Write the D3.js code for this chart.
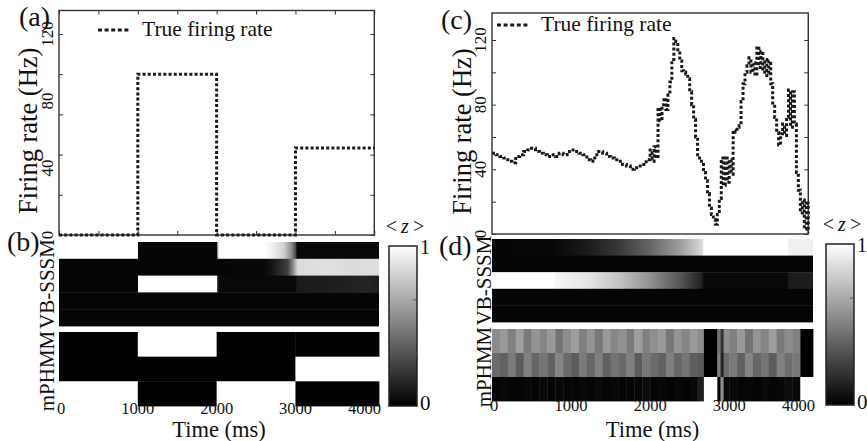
<!DOCTYPE html>
<meta charset="utf-8">
<script src="https://d3js.org/d3.v7.min.js"></script>
<body style="margin:0;background:#fff">
<script>

// ---- data ----
var timeTicks = [0, 1000, 2000, 3000, 4000];
var minorTimeTicks = [0, 500, 1000, 1500, 2000, 2500, 3000, 3500, 4000];

// (a) step firing rate
var stepTimes = [0, 1000, 2000, 3000, 4000];
var stepRates = [0, 96, 0, 52, 52];
var rateTicksA = [0, 24, 48, 72, 96, 120];
var rateLabels = [0, 40, 80, 120];

// (c) smooth firing rate
var rateTicksC = [0, 20, 40, 60, 80, 100, 120];
var rateTimes = [0, 50, 100, 150, 200, 250, 300, 350, 400, 450, 500, 550, 600, 650, 700, 750, 800, 850, 900, 950,
  1000, 1050, 1100, 1150, 1200, 1250, 1300, 1350, 1400, 1450, 1500, 1550, 1600, 1650, 1700, 1750, 1800, 1850, 1900, 1950,
  2000, 2025, 2050, 2075, 2100, 2125, 2150, 2175, 2200, 2225, 2250, 2275, 2300, 2325, 2350, 2375, 2400, 2425, 2450, 2475,
  2500, 2525, 2550, 2575, 2600, 2625, 2650, 2675, 2700, 2725, 2750, 2775, 2800, 2825, 2850, 2875, 2900, 2925, 2950, 2975,
  3000, 3025, 3050, 3075, 3100, 3125, 3150, 3175, 3200, 3225, 3250, 3275, 3300, 3325, 3350, 3375, 3400, 3425, 3450, 3475,
  3500, 3525, 3550, 3575, 3600, 3625, 3650, 3675, 3700, 3725, 3750, 3775, 3800, 3825, 3850, 3875, 3900, 3925, 3950, 3975, 4000];
var rateValues = [50, 49, 48, 47, 45, 44, 48, 49, 51, 52, 53, 51, 50, 49, 48, 49, 48, 50, 49, 51,
  52, 51, 50, 49, 46, 45, 49, 51, 50, 48, 47, 46, 45, 43, 42, 40, 41, 42, 43, 46,
  52, 45, 54, 47, 78, 70, 80, 84, 77, 86, 94, 108, 121, 119, 114, 107, 101, 100, 99, 96,
  88, 80, 71, 60, 49, 47, 44, 38, 33, 25, 16, 12, 9, 6, 12, 22, 47, 30, 48, 32,
  46, 37, 64, 63, 66, 67, 82, 93, 100, 104, 109, 100, 106, 98, 116, 103, 113, 100, 108, 98,
  107, 93, 80, 72, 63, 55, 62, 68, 61, 72, 89, 66, 88, 68, 38, 27, 13, 21, 3, 19, 1];

// (b) VB-SSSM <z>, gradient stops [time, value] per state
var vbStopsB = [
  [[0, 1], [1000, 1], [1000, 0.02], [2000, 0.02], [2000, 0.35], [2030, 1], [2600, 1], [2700, 0.95], [2850, 0.82], [2950, 0.55], [3000, 0.3], [3020, 0.03], [4060, 0.03]],
  [[0, 0.02], [2000, 0.02], [2600, 0.03], [2700, 0.08], [2900, 0.25], [2960, 0.5], [3030, 0.86], [3400, 0.88], [3700, 0.86], [4060, 0.87]],
  [[0, 0.02], [1000, 0.02], [1000, 1], [2000, 1], [2000, 0.4], [2030, 0.03], [3000, 0.03], [3020, 0.1], [3600, 0.12], [3900, 0.14], [4060, 0.12]],
  [[0, 0.02], [4060, 0.02]],
  [[0, 0.02], [4060, 0.02]]
];
// (b) mPHMM <z>, cells
var mpEdgesB = [0, 1000, 2000, 3000, 4060];
var mpValuesB = [
  [0, 1, 0, 0],
  [0, 0, 0, 1],
  [1, 0, 1, 0]
];

// (d) VB-SSSM <z>
var vbStopsD = [
  [[0, 0.02], [800, 0.03], [1200, 0.1], [1600, 0.22], [2000, 0.4], [2400, 0.63], [2660, 0.85], [2680, 1], [3750, 1], [3750, 0.94], [4060, 0.94]],
  [[0, 0.02], [4060, 0.02]],
  [[0, 1], [800, 1], [800, 0.96], [1200, 0.9], [1600, 0.77], [2000, 0.57], [2400, 0.32], [2660, 0.12], [2680, 0.03], [3750, 0.03], [3750, 0.1], [4060, 0.12]],
  [[0, 0.02], [4060, 0.02]],
  [[0, 0.02], [4060, 0.02]]
];
// (d) mPHMM <z>, cells
var mpEdgesD = [0, 100, 200, 300, 400, 500, 600, 700, 800, 900, 1000, 1100, 1200, 1300, 1400, 1500, 1600, 1700, 1800, 1900,
  2000, 2100, 2200, 2300, 2400, 2500, 2600, 2680, 2850, 2890, 2930, 3000, 3100, 3200, 3300, 3400, 3500, 3600, 3700, 3800, 3900, 4060];
var mpValuesD = [
  [0.55, 0.6, 0.5, 0.62, 0.48, 0.58, 0.52, 0.6, 0.45, 0.55, 0.62, 0.5, 0.58, 0.47, 0.6, 0.53, 0.57, 0.48, 0.62, 0.5, 0.56, 0.6, 0.47, 0.58, 0.52, 0.6,
   0.55, 0, 0.45, 0.2, 0.55, 0.5, 0.6, 0.45, 0.58, 0.52, 0.62, 0.48, 0.55, 0.5, 0],
  [0.42, 0.38, 0.48, 0.36, 0.5, 0.4, 0.46, 0.38, 0.52, 0.42, 0.36, 0.48, 0.4, 0.5, 0.38, 0.45, 0.41, 0.5, 0.36, 0.47, 0.42, 0.38, 0.5, 0.4, 0.46, 0.37,
   0.35, 0, 0.5, 0.15, 0.42, 0.48, 0.38, 0.52, 0.4, 0.46, 0.36, 0.5, 0.43, 0.47, 0],
  [0.02, 0.03, 0.02, 0.02, 0.03, 0.02, 0.04, 0.02, 0.03, 0.02, 0.02, 0.03, 0.02, 0.04, 0.02, 0.03, 0.02, 0.02, 0.03, 0.05, 0.02, 0.03, 0.02, 0.03, 0.02, 0.03,
   0.12, 1, 0.02, 0.55, 0.03, 0.03, 0.02, 0.03, 0.02, 0.04, 0.02, 0.03, 0.05, 0.04, 1]
];
var cbTicks = [0, 1 / 3, 2 / 3, 1];

// ---- drawing ----
var font = "'Liberation Serif','Times New Roman',serif";
var gray = d3.scaleLinear().domain([0, 1]).range(["#000", "#fff"]);

var svg = d3.select("body").append("svg")
  .attr("width", 867).attr("height", 441)
  .style("display", "block")
  .style("font-family", font);
svg.append("rect").attr("width", 867).attr("height", 441).attr("fill", "#fff");
var defs = svg.append("defs");

function txt(g, x, y, s, size, anchor, rot) {
  var t = g.append("text")
    .attr("transform", "translate(" + x + "," + y + ")" + (rot ? " rotate(-90)" : ""))
    .attr("text-anchor", anchor || "start")
    .attr("font-size", size)
    .attr("fill", "#111")
    .text(s);
  return t;
}

function ratePanel(p) {
  var g = svg.append("g");
  var x = p.x, y = p.y;
  var xa = x(0), xb = x(4000), yb = y.range()[0], yt = y.range()[1];

  // inner tick marks
  g.append("g").attr("transform", "translate(" + xa + ",0)")
    .call(d3.axisLeft(y).tickValues(p.yTicks).tickSize(-4).tickFormat(""));
  g.append("g").attr("transform", "translate(" + xb + ",0)")
    .call(d3.axisRight(y).tickValues(p.yTicks).tickSize(-4).tickFormat(""));
  if (p.xTicks) {
    g.append("g").attr("transform", "translate(0," + yt + ")")
      .call(d3.axisTop(x).tickValues(p.xTicks).tickSize(-4).tickFormat(""));
    g.append("g").attr("transform", "translate(0," + yb + ")")
      .call(d3.axisBottom(x).tickValues(p.xTicks).tickSize(-4).tickFormat(""));
  }
  g.selectAll(".domain").remove();
  g.selectAll(".tick line").attr("stroke", "#333").attr("stroke-width", 1);

  g.append("rect").attr("x", xa).attr("y", yt).attr("width", xb - xa).attr("height", yb - yt)
    .attr("fill", "none").attr("stroke", "#333").attr("stroke-width", 1.4);

  var pts = p.times.map(function(t, i) { return [t, p.rates[i]]; });
  var line = d3.line().x(function(d) { return x(d[0]); }).y(function(d) { return y(d[1]); })
    .curve(d3.curveStepAfter);
  g.append("path").datum(pts).attr("d", line)
    .attr("fill", "none").attr("stroke", "#1a1a1a").attr("stroke-width", 3)
    .attr("stroke-dasharray", "3,2.2");

  // y tick labels (rotated)
  rateLabels.forEach(function(v) {
    txt(g, xa - 6, y(v), v, 17, "middle", true);
  });
  txt(g, p.ylabX, (yt + yb) / 2 + 8, "Firing rate (Hz)", 26.5, "middle", true);

  // legend
  g.append("line").attr("x1", p.legX).attr("x2", p.legX + 33).attr("y1", p.legY).attr("y2", p.legY)
    .attr("stroke", "#1a1a1a").attr("stroke-width", 3).attr("stroke-dasharray", "4,2.6");
  txt(g, p.legX + 44, p.legY + 6, "True firing rate", 21.5, "start");
  txt(g, p.tagX, p.tagY, p.tag, 28, "start");
}

function gradRows(g, x, top, bottom, rows, id) {
  var band = d3.scaleBand().domain(d3.range(rows.length)).range([top, bottom]);
  var xa = x(0), xb = x(4060);
  rows.forEach(function(stops, i) {
    var lg = defs.append("linearGradient").attr("id", id + i)
      .attr("gradientUnits", "userSpaceOnUse")
      .attr("x1", xa).attr("x2", xb).attr("y1", 0).attr("y2", 0);
    stops.forEach(function(s) {
      lg.append("stop").attr("offset", (x(s[0]) - xa) / (xb - xa)).attr("stop-color", gray(s[1]));
    });
    g.append("rect").attr("x", xa).attr("y", band(i)).attr("width", xb - xa)
      .attr("height", band.bandwidth() + 0.4).attr("fill", "url(#" + id + i + ")");
  });
}

function cellRows(g, x, top, bottom, edges, rows) {
  var band = d3.scaleBand().domain(d3.range(rows.length)).range([top, bottom]);
  rows.forEach(function(vals, i) {
    g.selectAll(null).data(vals).enter().append("rect")
      .attr("x", function(d, j) { return x(edges[j]); })
      .attr("width", function(d, j) { return x(edges[j + 1]) - x(edges[j]) + 0.4; })
      .attr("y", band(i)).attr("height", band.bandwidth() + 0.4)
      .attr("fill", function(d) { return gray(d); });
  });
}

function colorbar(g, x0, y0, w, h, id) {
  var cy = d3.scaleLinear().domain([0, 1]).range([y0 + h, y0]);
  var lg = defs.append("linearGradient").attr("id", id)
    .attr("gradientUnits", "userSpaceOnUse")
    .attr("x1", 0).attr("x2", 0).attr("y1", cy(0)).attr("y2", cy(1));
  lg.append("stop").attr("offset", 0).attr("stop-color", gray(0));
  lg.append("stop").attr("offset", 1).attr("stop-color", gray(1));
  g.append("rect").attr("x", x0).attr("y", y0).attr("width", w).attr("height", h)
    .attr("fill", "url(#" + id + ")").attr("stroke", "#222").attr("stroke-width", 1.5);
  var ax = g.append("g").attr("transform", "translate(" + (x0 + w) + ",0)")
    .call(d3.axisRight(cy).tickValues(cbTicks).tickSize(-4).tickFormat(""));
  ax.select(".domain").remove();
  ax.selectAll(".tick line").attr("stroke", "#555");
  txt(g, x0 + w + 3, cy(1) + 8, "1", 20, "start");
  txt(g, x0 + w + 3, cy(0) + 4, "0", 21, "start");
  var z = txt(g, x0 + w / 2 + 2, y0 - 13, "", 20, "middle");
  z.append("tspan").text("<\u2009");
  z.append("tspan").attr("font-style", "italic").text("z");
  z.append("tspan").text("\u2009>");
}

function zPanel(p) {
  var g = svg.append("g");
  var x = p.x;
  gradRows(g, x, p.vbTop, p.vbBottom, p.vbStops, p.id);
  cellRows(g, x, p.mpTop, p.mpBottom, p.mpEdges, p.mpValues);
  txt(g, p.labX, (p.vbTop + p.vbBottom) / 2, "VB-SSSM", 21, "middle", true);
  txt(g, p.labX, (p.mpTop + p.mpBottom) / 2 + 2, "mPHMM", 21, "middle", true);
  timeTicks.forEach(function(t, i) {
    var anchor = "middle", px = x(t);
    if (i === 0) { anchor = "start"; px = x(0) - 2; }
    if (i === timeTicks.length - 1) { anchor = "end"; px = x(4060) + 2; }
    txt(g, px, p.tickY, t, 16.5, anchor);
  });
  txt(g, (x(0) + x(4060)) / 2, 437, "Time (ms)", 22.5, "middle");
  colorbar(g, p.cbX, p.cbY, 28, p.cbH, p.id + "cb");
  txt(g, p.tagX, p.tagY, p.tag, 28, "start");
}

var xL = d3.scaleLinear().domain([0, 4060]).range([59, 379]);
var xR = d3.scaleLinear().domain([0, 4060]).range([492, 813]);

ratePanel({
  x: xL, y: d3.scaleLinear().domain([0, 134]).range([235, 10.5]),
  yTicks: rateTicksA, xTicks: minorTimeTicks,
  times: stepTimes, rates: stepRates,
  ylabX: 37, legX: 98, legY: 30, tag: "(a)", tagX: 19, tagY: 26
});
ratePanel({
  x: xR, y: d3.scaleLinear().domain([0, 136.7]).range([234, 13]),
  yTicks: rateTicksC, xTicks: null,
  times: rateTimes, rates: rateValues,
  ylabX: 471, legX: 497, legY: 25, tag: "(c)", tagX: 441, tagY: 29
});

zPanel({
  x: xL, id: "zb",
  vbTop: 242, vbBottom: 326, vbStops: vbStopsB,
  mpTop: 332, mpBottom: 406, mpEdges: mpEdgesB, mpValues: mpValuesB, tickY: 413.5,
  labX: 54, cbX: 389, cbY: 246, cbH: 160, tag: "(b)", tagX: 7, tagY: 251
});
zPanel({
  x: xR, id: "zd",
  vbTop: 239, vbBottom: 322, vbStops: vbStopsD,
  mpTop: 329, mpBottom: 401, mpEdges: mpEdgesD, mpValues: mpValuesD, tickY: 411,
  labX: 491, cbX: 826, cbY: 244, cbH: 161, tag: "(d)", tagX: 439, tagY: 255
});

</script>
</body>
